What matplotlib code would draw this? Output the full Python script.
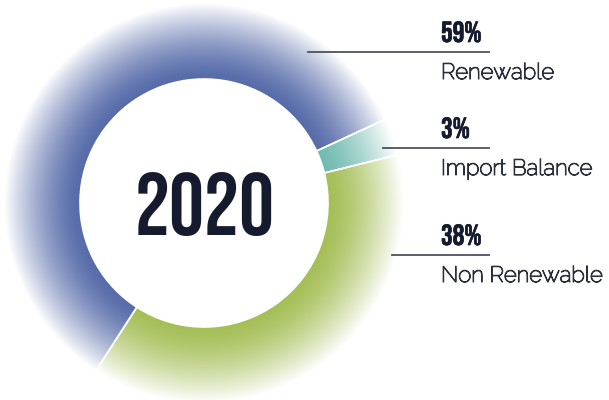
import numpy as np
import matplotlib
matplotlib.use("Agg")
from matplotlib import pyplot as plt
from matplotlib import patheffects as pe
from matplotlib.colors import to_rgb

# energy mix for the year
year = "2020"
labels = ["Renewable", "Non Renewable", "Import Balance"]
shares = [59, 38, 3]
colors = ["#566ba9", "#a5bf57", "#72bbb1"]

# label block order on the right, top to bottom
label_order = ["Renewable", "Import Balance", "Non Renewable"]
line_y = [348, 252, 145]
line_x0 = [308, 383, 392]

W, H = 609, 400
cx, cy = 204, 197
r_in, r_out = 124, 200

head_font = ["Bebas Neue", "DejaVu Sans"]
body_font = ["Raleway", "DejaVu Sans"]
text_dark = "#161a2e"
text_body = "#2b2e3b"

fig = plt.figure(figsize=(W / 100, H / 100), dpi=100)
ax = fig.add_axes([0, 0, 1, 1])

wedges, _ = ax.pie(shares, radius=r_out, center=(cx, cy), startangle=24.8,
                   counterclock=True,
                   wedgeprops=dict(width=r_out - r_in, facecolor="none",
                                   edgecolor="white", linewidth=1.2, zorder=3))

# radial fade: full colour at the hole, white toward the rim
n = 900
xs = np.linspace(cx - r_out, cx + r_out, n)
ys = np.linspace(cy - r_out, cy + r_out, n)
gx, gy = np.meshgrid(xs, ys)
rr = np.hypot(gx - cx, gy - cy)
f = np.clip((rr - r_in) / (r_out - r_in), 0, 1) ** 1.45

for w, c in zip(wedges, colors):
    base = np.array(to_rgb(c))
    img = base[None, None, :] * (1 - f[..., None]) + f[..., None]
    im = ax.imshow(img, extent=(cx - r_out, cx + r_out, cy - r_out, cy + r_out),
                   origin="lower", interpolation="bilinear", zorder=2)
    im.set_clip_path(w)

ax.text(cx + 1, cy - 1, year, ha="center", va="center", fontsize=63,
        color=text_dark, family=head_font)

# the installed Raleway is a thin variable font, so thicken the strokes a bit
body_fx = [pe.withStroke(linewidth=0.8, foreground=text_body)]
head_fx = [pe.withStroke(linewidth=0.5, foreground=text_dark)]

share_of = dict(zip(labels, shares))
for name, y, x0 in zip(label_order, line_y, line_x0):
    ax.plot([x0, 489], [y, y], color="#4d5060", lw=1.3, zorder=4)
    ax.text(441, y + 10, f"{share_of[name]}%", ha="left", va="baseline",
            fontsize=21, color=text_dark, family=head_font, path_effects=head_fx)
    ax.text(441, y - 27, name, ha="left", va="baseline", fontsize=16,
            color=text_body, family=body_font, path_effects=body_fx)

ax.set_xlim(0, W)
ax.set_ylim(0, H)
ax.set_aspect("auto")
ax.axis("off")

fig.savefig("out.png", dpi=100, facecolor="white")
